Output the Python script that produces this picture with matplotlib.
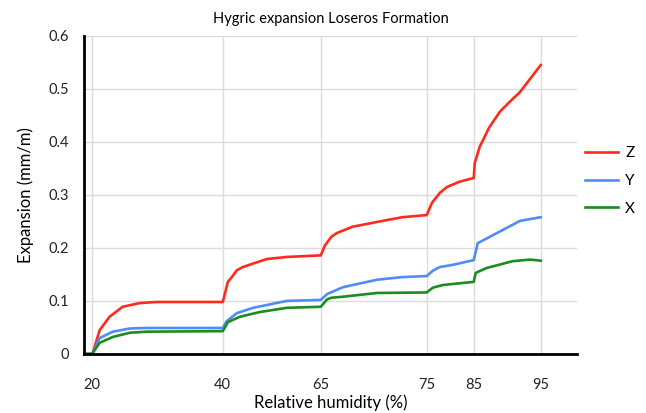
# plot.py
# Hygric expansion curves (Loseros Formation) redrawn from the reference picture.

import numpy as np
import matplotlib
matplotlib.use("Agg")
import matplotlib.pyplot as plt

# --- data ---
rh_z = [18.8, 20, 20.15, 21.2, 22.7, 24.7, 27.3, 29.9, 40, 41.3, 42.3, 43.6, 45.1,
        51.2, 56.3, 65, 65.4, 66.0, 66.5, 68.0, 70.3, 72.7, 75, 76.1, 77.8, 79.3,
        82.0, 85, 85.15, 85.9, 87.3, 88.9, 90.4, 91.9, 95]
exp_z = [0, 0, 0.002, 0.045, 0.070, 0.089, 0.096, 0.098, 0.098, 0.136, 0.145, 0.158, 0.164,
         0.179, 0.183, 0.186, 0.205, 0.221, 0.228, 0.240, 0.249, 0.258, 0.262, 0.285, 0.304, 0.315,
         0.325, 0.332, 0.360, 0.391, 0.427, 0.457, 0.476, 0.494, 0.545]

rh_y = [18.8, 20, 20.15, 21.2, 23.2, 25.8, 28.4, 40, 41.0, 43.6, 47.7, 56.3, 65,
        65.6, 67.1, 70.3, 72.7, 75, 76.3, 77.8, 80.5, 85, 85.6, 87.4, 91.9, 95]
exp_y = [0, 0, 0.002, 0.030, 0.042, 0.048, 0.049, 0.049, 0.062, 0.077, 0.087, 0.100, 0.102,
         0.113, 0.126, 0.140, 0.145, 0.147, 0.157, 0.164, 0.168, 0.177, 0.209, 0.221, 0.251, 0.258]

rh_x = [18.8, 20, 20.15, 21.2, 23.2, 25.8, 28.4, 40, 41.3, 44.3, 49.4, 56.3, 65,
        65.6, 66.0, 67.1, 70.3, 75, 76.3, 78.4, 85, 85.3, 86.9, 90.8, 93.4, 95]
exp_x = [0, 0, 0.002, 0.021, 0.032, 0.040, 0.042, 0.043, 0.060, 0.070, 0.079, 0.087, 0.089,
         0.103, 0.106, 0.108, 0.115, 0.116, 0.125, 0.130, 0.136, 0.153, 0.162, 0.175, 0.178, 0.176]

x_ticks = [20, 40, 65, 75, 85, 95]
y_ticks = [0, 0.1, 0.2, 0.3, 0.4, 0.5, 0.6]

# the humidity axis in the source is not linear: spacing between ticks is uneven
scale_rh = [0, 20, 40, 65, 75, 85, 95, 120]
scale_pos = [-39, 92, 223, 321, 427, 474, 541, 708.5]


def fwd(x):
    return np.interp(x, scale_rh, scale_pos)


def inv(p):
    return np.interp(p, scale_pos, scale_rh)


plt.rcParams['font.family'] = ['Lato', 'DejaVu Sans']

fig = plt.figure(figsize=(6.46, 4.13), dpi=100)
ax = fig.add_axes([0.130, 0.143, 0.763, 0.770])
ax.set_xscale('function', functions=(fwd, inv))

ax.plot(rh_z, exp_z, color='#ff2a1c', lw=1.9, label='Z', zorder=3)
ax.plot(rh_y, exp_y, color='#4f8cf7', lw=1.9, label='Y', zorder=3)
ax.plot(rh_x, exp_x, color='#1c8c1f', lw=1.9, label='X', zorder=3)

ax.set_xlim(18.8, 100.4)
ax.set_ylim(0, 0.6)
ax.set_xticks(x_ticks)
ax.set_xticklabels([str(v) for v in x_ticks])
ax.set_yticks(y_ticks)
ax.set_yticklabels(['0', '0.1', '0.2', '0.3', '0.4', '0.5', '0.6'])
ax.xaxis.set_minor_locator(matplotlib.ticker.NullLocator())

ax.grid(True, color='#dcdcdc', lw=1.0)
ax.set_axisbelow(True)
for s in ['top', 'right']:
    ax.spines[s].set_visible(False)
for s in ['left', 'bottom']:
    ax.spines[s].set_linewidth(2.0)
    ax.spines[s].set_color('black')
    ax.spines[s].set_zorder(4)

ax.tick_params(axis='both', length=0, labelsize=10.5, colors='#222222')
ax.tick_params(axis='x', pad=17)
ax.tick_params(axis='y', pad=11)

ax.set_title('Hygric expansion Loseros Formation', fontsize=10.5, pad=9)
ax.set_xlabel('Relative humidity (%)', fontsize=12, labelpad=2)
ax.set_ylabel('Expansion (mm/m)', fontsize=12, labelpad=10)

ax.legend(loc='center left', bbox_to_anchor=(1.016, 0.544), frameon=False,
          borderaxespad=0, borderpad=0, fontsize=11, handlelength=2.2,
          handletextpad=0.45, labelspacing=0.9)

fig.savefig('out.png', dpi=100)
